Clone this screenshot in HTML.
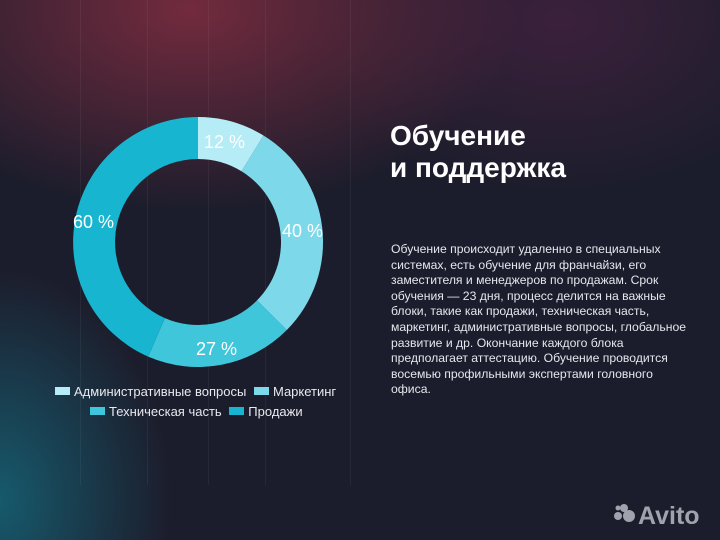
<!DOCTYPE html>
<html><head><meta charset="utf-8"><style>
html,body{margin:0;padding:0}
body{width:720px;height:540px;overflow:hidden;position:relative;font-family:"Liberation Sans","DejaVu Sans",sans-serif;
background:
radial-gradient(ellipse 330px 200px at 190px 10px, rgba(130,45,65,0.85), rgba(130,45,65,0) 100%),
radial-gradient(ellipse 260px 170px at 560px 20px, rgba(80,35,70,0.6), rgba(80,35,70,0) 100%),
radial-gradient(ellipse 170px 230px at 0px 500px, rgba(20,110,130,0.75), rgba(20,110,130,0) 100%),
#1c1d2c;}
.gl{position:absolute;top:0;height:485px;width:1px;background:rgba(255,255,255,0.05)}
h1{position:absolute;left:390px;top:120px;margin:0;color:#fff;font-size:28px;font-weight:bold;line-height:32px}
p{position:absolute;left:391px;top:242px;width:300px;margin:0;color:#e6e6ee;font-size:12.2px;line-height:15.6px}
.leg{position:absolute;color:#e8e8ee;font-size:13px}
.sw{display:inline-block;width:15px;height:8px;margin-right:4px;vertical-align:1px}
</style></head><body>
<div class="gl" style="left:80px"></div><div class="gl" style="left:147px"></div><div class="gl" style="left:208px"></div><div class="gl" style="left:265px"></div><div class="gl" style="left:350px"></div>
<svg width="720" height="540" style="position:absolute;left:0;top:0">
<g transform="translate(198,242)">
<path d="M0,-125 A125,125 0 0 1 65.5,-106.5 L43.5,-70.7 A83,83 0 0 0 0,-83 Z" fill="#b5ecf5"/>
<path d="M65.5,-106.5 A125,125 0 0 1 88.8,88 L59,58.4 A83,83 0 0 0 43.5,-70.7 Z" fill="#7dd9ea"/>
<path d="M88.8,88 A125,125 0 0 1 -49.8,114.6 L-33.1,76.1 A83,83 0 0 0 59,58.4 Z" fill="#3fc6da"/>
<path d="M-49.8,114.6 A125,125 0 0 1 0,-125 L0,-83 A83,83 0 0 0 -33.1,76.1 Z" fill="#17b5cf"/>
</g>
<g fill="#fff" font-family="Liberation Sans,sans-serif" font-size="18">
<text x="204" y="148">12 %</text>
<text x="282" y="237">40 %</text>
<text x="196" y="355">27 %</text>
<text x="73" y="228">60 %</text>
</g>
</svg>
<div class="leg" style="left:55px;top:384px"><span class="sw" style="background:#b5ecf5"></span>Административные вопросы <span class="sw" style="background:#7dd9ea;margin-left:4px"></span>Маркетинг</div>
<div class="leg" style="left:90px;top:404px"><span class="sw" style="background:#3fc6da"></span>Техническая часть <span class="sw" style="background:#17b5cf;margin-left:4px"></span>Продажи</div>
<h1>Обучение<br>и поддержка</h1>
<p>Обучение происходит удаленно в специальных системах, есть обучение для франчайзи, его заместителя и менеджеров по продажам. Срок обучения — 23 дня, процесс делится на важные блоки, такие как продажи, техническая часть, маркетинг, административные вопросы, глобальное развитие и др. Окончание каждого блока предполагает аттестацию. Обучение проводится восемью профильными экспертами головного офиса.</p>
<svg width="100" height="30" style="position:absolute;left:612px;top:500px">
<circle cx="12" cy="8" r="4" fill="#a0a3ad"/><circle cx="6" cy="16" r="4" fill="#a0a3ad"/><circle cx="17" cy="16" r="6" fill="#a0a3ad"/><circle cx="6" cy="8" r="2.5" fill="#a0a3ad"/>
<text x="26" y="24" fill="#a0a3ad" font-size="25" font-weight="bold" font-family="Liberation Sans,sans-serif">Avito</text>
</svg>
</body></html>
